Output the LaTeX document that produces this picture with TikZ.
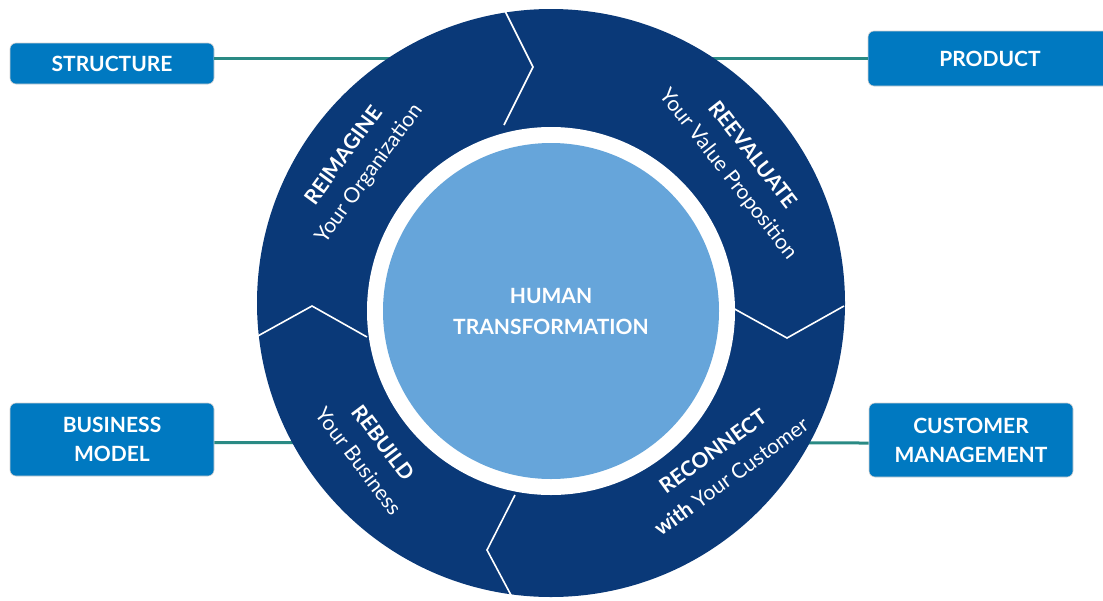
\documentclass[tikz,border=0pt]{standalone}
\usepackage{fontspec}
\setmainfont{Lato}
\usetikzlibrary{calc}
\definecolor{anneau}{HTML}{0A3978}
\definecolor{coeur}{HTML}{66A5DA}
\definecolor{boite}{HTML}{0079C1}
\definecolor{lien}{HTML}{2A8A84}

\begin{document}
\begin{tikzpicture}[x=1pt,y=-1pt,
		boite/.style={fill=boite,draw=gray!35,line width=0.6pt,rounded corners=6pt,text=white,
			font=\fontsize{21}{29}\selectfont\bfseries,align=center,inner sep=0pt},
		lien/.style={draw=lien,line width=3pt},
		pli/.style={draw=white,line width=1.6pt},
		titre/.style={text=white,align=center,font=\fontsize{21}{31}\selectfont}]
					\useasboundingbox (0,0) rectangle (1103,600);
%					Boîtes :
					\node[boite,minimum width=204pt,minimum height=41pt] (structure) at (112,63.5) {STRUCTURE};
					\node[boite,minimum width=244pt,minimum height=55pt] (product) at (990,58.5) {PRODUCT};
					\node[boite,minimum width=204pt,minimum height=73pt] (business) at (112,439.5) {BUSINESS\\MODEL};
					\node[boite,minimum width=204pt,minimum height=74pt] (customer) at (971,440) {CUSTOMER\\MANAGEMENT};
%					Liens :
					\draw[lien] (structure.east |- product.west) -- (product.west);
					\draw[lien] ([yshift=-3pt]business.east) -- ([yshift=-3pt]customer.west);
%					Tracé de l'anneau :
					\fill[anneau] (551,303) circle (294pt);
					\draw[pli] (504,9) -- (533,67) -- (504,125);
					\draw[pli] (256,337) -- (312,306) -- (367,337);
					\draw[pli] (731,307) -- (787,338) -- (844,306);
					\draw[pli] (515,495) -- (487,550) -- (512,597);
%					Tracé du cœur :
					\fill[white] (551,311) circle (184pt);
					\fill[coeur] (551,311) circle (168pt);
					\node[titre,font=\fontsize{21}{31}\selectfont\bfseries] (human) at (551,311) {HUMAN\\TRANSFORMATION};
%					Étapes :
					\node[titre,rotate=54] (reimagine) at (357,165) {\textbf{REIMAGINE}\\Your Organization};
					\node[titre,rotate=-52] (reevaluate) at (740,165) {\textbf{REEVALUATE}\\Your Value Proposition};
					\node[titre,rotate=-53] (rebuild) at (371,452) {\textbf{REBUILD}\\Your Business};
					\node[titre,rotate=36] (reconnect) at (722,464) {\textbf{RECONNECT}\\\textbf{with} Your Customer};
				\end{tikzpicture}
\end{document}
